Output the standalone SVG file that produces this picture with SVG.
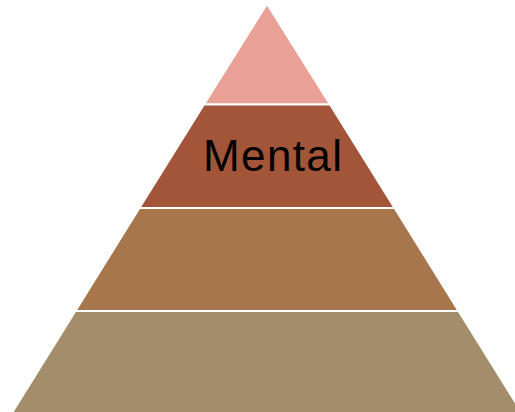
<svg xmlns="http://www.w3.org/2000/svg" width="515" height="412" viewBox="0 0 515 412">
<style>
.band{stroke:#ffffff;stroke-width:1.8;stroke-linejoin:miter}
.lbl{font-family:"Liberation Sans",Arial,sans-serif;font-size:44px;fill:#000000}
</style>
<rect width="515" height="412" fill="#ffffff"/>
<g id="layer1"><polygon class="band" fill="#E9A197" points="267,4 330,104.5 204,104.5"/></g>
<g id="layer2"><polygon class="band" fill="#A3553A" points="204,104.5 330,104.5 394.5,208 139.5,208"/>
<text class="lbl" x="272.5" y="170.5" text-anchor="middle" textLength="139" lengthAdjust="spacing">Mental</text></g>
<g id="layer3"><polygon class="band" fill="#A7764C" points="139.5,208 394.5,208 458.5,311 75.5,311"/></g>
<g id="layer4"><polygon class="band" fill="#A48D6A" points="75.5,311 458.5,311 522,413 12,413"/></g>
<g id="connectors"></g>
</svg>
